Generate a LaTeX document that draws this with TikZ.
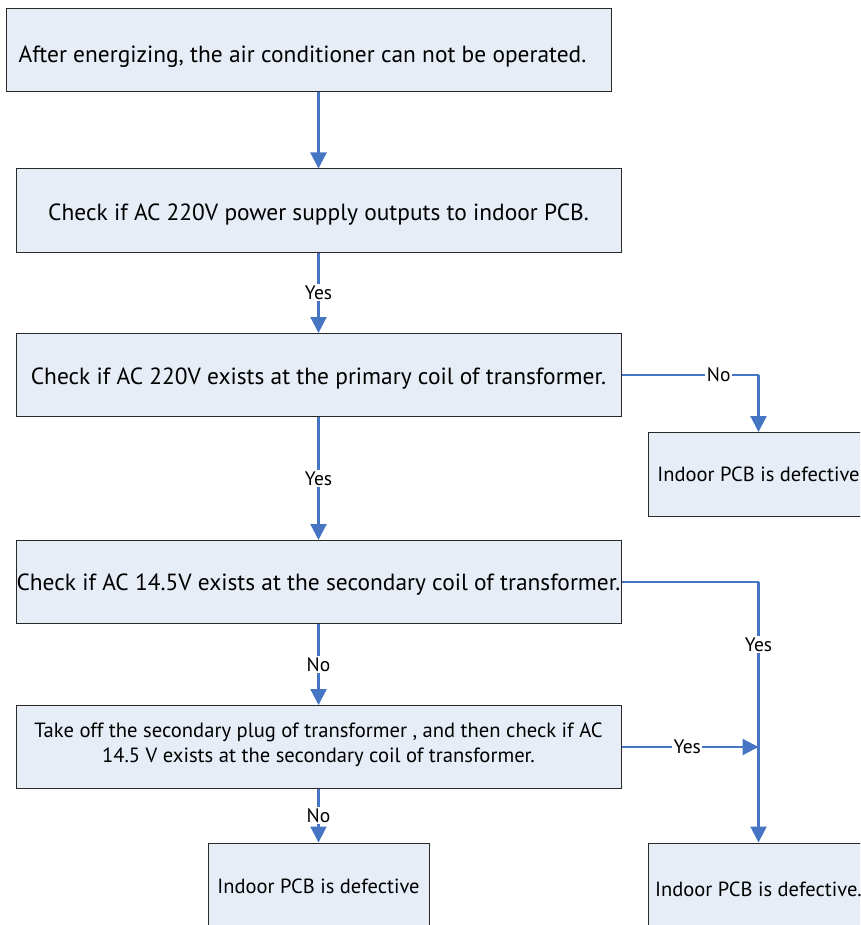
\documentclass[tikz,border=0pt]{standalone}
\usepackage{fontspec}
\setmainfont{PT Sans}
\usetikzlibrary{arrows.meta}
\definecolor{boxfill}{RGB}{231,237,247}
\definecolor{boxline}{RGB}{40,40,40}
\definecolor{arr}{RGB}{70,117,196}
\newcommand\lowered[2]{\raisebox{-#1}[\height][\depth]{#2}}
\tikzset{
  stepbox/.style={draw=boxline, line width=1pt, fill=boxfill, minimum width=605pt, minimum height=83pt, inner sep=0pt, align=center, font=\fontsize{23.4}{27}\selectfont},
  endbox/.style={draw=boxline, line width=1pt, fill=boxfill, minimum width=221pt, minimum height=84pt, inner sep=0pt, align=center, font=\fontsize{20.5}{24}\selectfont},
  flow/.style={draw=arr, line width=2.2pt, -{Triangle[width=16pt,length=16pt]}},
  flowline/.style={draw=arr, line width=2.2pt},
  lbl/.style={fill=white, inner sep=1.5pt, font=\fontsize{19.5}{22}\selectfont, text=black}
}
\begin{document}
\begin{tikzpicture}[x=1pt,y=-1pt]
\useasboundingbox (0,0) rectangle (860,925);
\clip (0,0) rectangle (860,925);
\node[stepbox] (b1) at (308.5,50.5) {\lowered{6pt}{After energizing, the air conditioner can not be operated.\hspace{12pt}}};
\node[stepbox] (b2) at (318.5,210.5) {\lowered{4.5pt}{Check if AC 220V power supply outputs to indoor PCB.}};
\node[stepbox] (b3) at (318.5,375) {\lowered{4pt}{Check if AC 220V exists at the primary coil of transformer.}};
\node[stepbox] (b4) at (318.5,582) {\lowered{3pt}{Check if AC 14.5V exists at the secondary coil of transformer.}};
\node[stepbox, font=\fontsize{20.6}{25}\selectfont] (b5) at (318.5,747) {Take off the secondary plug of transformer , and then check if AC\\14.5 V exists at the secondary coil of transformer.\\[-24pt]\strut};
\node[endbox] (r1) at (758.5,474.5) {Indoor PCB is defective};
\node[endbox] (bl) at (318.5,885) {\lowered{1pt}{Indoor PCB is defective}};
\node[endbox] (br) at (758.5,885) {\lowered{4pt}{Indoor PCB is defective.}};

\draw[flow] (b2.north |- b1.south) -- (b2.north);
\draw[flow] (b2.south) -- node[lbl] {Yes} (b3.north);
\draw[flow] (b3.south) -- node[lbl] {Yes} (b4.north);
\draw[flow] (b4.south) -- node[lbl] {No} (b5.north);
\draw[flow] (b5.south) -- node[lbl] {No} (bl.north);
\draw[flowline] (b3.east) -- node[lbl, pos=0.71] {No} (b3.east -| r1.north);
\draw[flow] (b3.east -| r1.north) -- (r1.north);
\draw[flowline] (b4.east) -- (b4.east -| br.north);
\draw[flow] (b4.east -| br.north) -- node[lbl, pos=0.24] {Yes} (br.north);
\draw[flow] (b5.east) -- node[lbl, pos=0.48] {Yes} (b5.east -| br.north);
\end{tikzpicture}
\end{document}
